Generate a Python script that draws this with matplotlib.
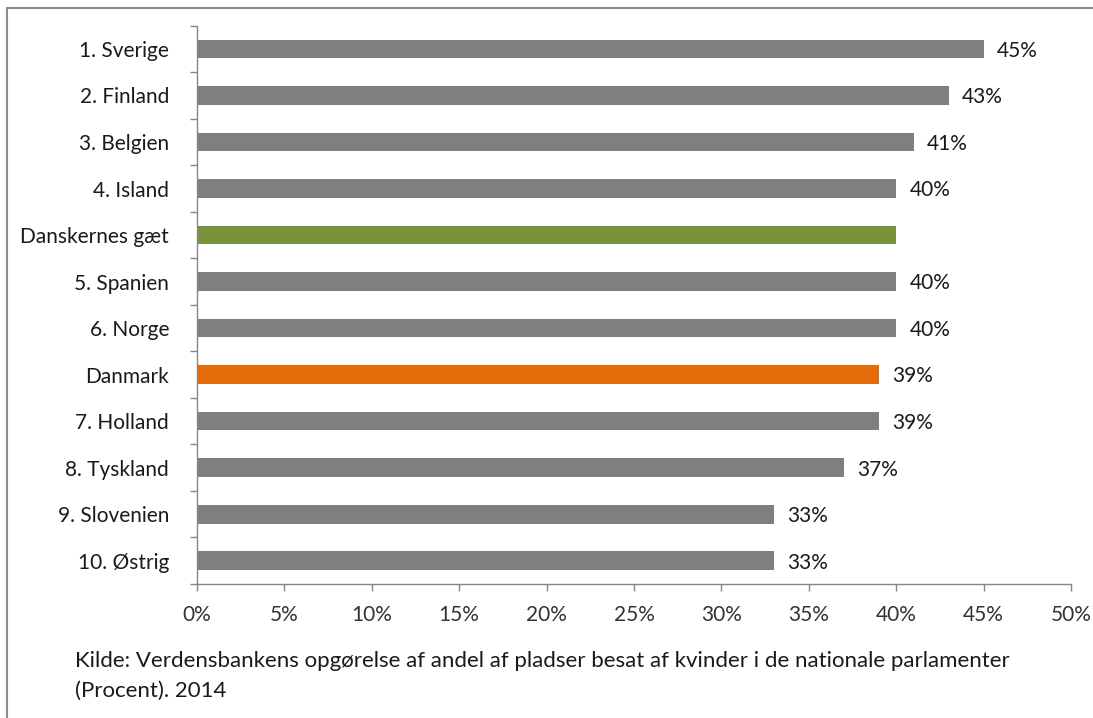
import numpy as np
import matplotlib
matplotlib.use('Agg')
import matplotlib.pyplot as plt
from matplotlib.lines import Line2D

countries = ['1. Sverige', '2. Finland', '3. Belgien', '4. Island', 'Danskernes gæt',
             '5. Spanien', '6. Norge', 'Danmark', '7. Holland', '8. Tyskland',
             '9. Slovenien', '10. Østrig']
values = [45, 43, 41, 40, 40, 40, 40, 39, 39, 37, 33, 33]
show_label = [True, True, True, True, False, True, True, True, True, True, True, True]
kinds = ['land', 'land', 'land', 'land', 'gaet', 'land', 'land', 'dk', 'land', 'land', 'land', 'land']
x_ticks = [0, 5, 10, 15, 20, 25, 30, 35, 40, 45, 50]
caption_lines = ['Kilde: Verdensbankens opgørelse af andel af pladser besat af kvinder i de nationale parlamenter',
                 '(Procent). 2014']

palette = {'land': '#7f7f7f', 'gaet': '#77933c', 'dk': '#e36c09'}
axis_col = '#868686'
txt_col = '#1a1a1a'
fs = 15

plt.rcParams['font.family'] = ['Lato', 'DejaVu Sans']

fig = plt.figure(figsize=(10.93, 7.18), dpi=100)
ax = fig.add_axes([197 / 1093, 1 - 584 / 718, 874 / 1093, (584 - 25.7) / 718])

y = np.arange(len(countries))
ax.barh(y, values, height=0.4, color=[palette[k] for k in kinds])
for yi, v, s in zip(y, values, show_label):
    if s:
        ax.text(v + 0.75, yi + 0.04, f'{v}%', va='center', ha='left', fontsize=fs, color=txt_col)

ax.set_xlim(0, 50)
ax.set_ylim(len(countries) - 0.5, -0.5)
ax.set_xticks(x_ticks)
ax.set_xticklabels([f'{t}%' for t in x_ticks], fontsize=fs, color='#333333')
ax.set_yticks(y)
ax.set_yticklabels(countries, fontsize=fs, color=txt_col)
ax.set_yticks(np.arange(len(countries) + 1) - 0.5, minor=True)
ax.tick_params(axis='y', which='major', length=0, pad=20)
ax.tick_params(axis='y', which='minor', length=5, color=axis_col, width=1)
ax.tick_params(axis='x', length=5, color=axis_col, width=1, pad=10)

for side in ['top', 'right']:
    ax.spines[side].set_visible(False)
for side in ['left', 'bottom']:
    ax.spines[side].set_color(axis_col)
    ax.spines[side].set_linewidth(1)

for i, line in enumerate(caption_lines):
    fig.text(75 / 1093, 1 - (661 + 30 * i) / 718, line, fontsize=16, va='center', ha='left',
             color=txt_col)

# frame lines (top and left only)
fig.add_artist(Line2D([7 / 1093, 7 / 1093], [0, 1 - 8 / 718], color='#8c8c8c', lw=1.5))
fig.add_artist(Line2D([7 / 1093, 1], [1 - 8 / 718, 1 - 8 / 718], color='#8c8c8c', lw=1.5))

fig.savefig('out.png', dpi=100)
